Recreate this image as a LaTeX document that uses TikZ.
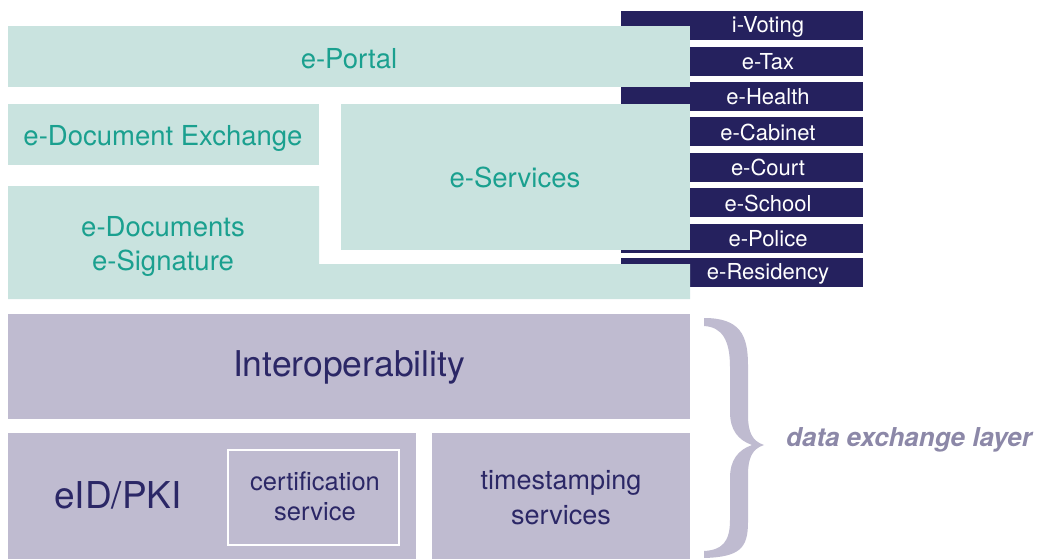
\documentclass[tikz,border=0pt]{standalone}
\usepackage{fontspec}
\setmainfont{TeX Gyre Heros}
\definecolor{tealbg}{HTML}{C9E3DF}
\definecolor{tealtx}{HTML}{1AA08F}
\definecolor{navy}{HTML}{25215E}
\definecolor{lav}{HTML}{BFBBD0}
\definecolor{lavtx}{HTML}{2B2766}
\definecolor{bracetx}{HTML}{8C88A8}
\begin{document}
\begin{tikzpicture}[x=1pt,y=-1pt,
  box/.style={inner sep=0pt,outer sep=0pt,anchor=north west},
  tealbox/.style={box,fill=tealbg},
  lavbox/.style={box,fill=lav},
  bar/.style={box,fill=navy,minimum width=242,minimum height=29},
  bartext/.style={text=white,font=\fontsize{22}{24}\selectfont,inner sep=0pt},
  tealtext/.style={text=tealtx,font=\fontsize{27.5}{34}\selectfont,align=center,inner sep=0pt},
  lavtext/.style={text=lavtx,align=center,inner sep=0pt}]
\useasboundingbox (0,0) rectangle (1046,559);
% dark service bars
\node[bar] (b1) at (621,11) {};
\node[bar] (b2) at (621,47) {};
\node[bar] (b3) at (621,82) {};
\node[bar] (b4) at (621,117) {};
\node[bar] (b5) at (621,153) {};
\node[bar] (b6) at (621,188) {};
\node[bar] (b7) at (621,224) {};
\node[bar] (b8) at (621,258) {};
\node[bartext] (t1) at (768,26.5) {i-Voting};
\node[bartext] (t2) at (768,61.5) {e-Tax};
\node[bartext] (t3) at (768,96.5) {e-Health};
\node[bartext] (t4) at (768,132) {e-Cabinet};
\node[bartext] (t5) at (768,167.5) {e-Court};
\node[bartext] (t6) at (768,203) {e-School};
\node[bartext] (t7) at (768,238.5) {e-Police};
\node[bartext] (t8) at (768,273.5) {e-Residency};
% teal boxes
\node[tealbox,minimum width=682,minimum height=61] (portal) at (8,26) {};
\node[tealtext] (portalt) at (349,59) {e-Portal};
\node[tealbox,minimum width=311,minimum height=61] (dex) at (8,104) {};
\node[tealtext] (dext) at (163,138) {e-Document Exchange};
\node[tealbox,minimum width=349,minimum height=146] (serv) at (341,104) {};
\node[tealtext] (servt) at (515,177) {e-Services};
\fill[tealbg] (8,186) -- (319,186) -- (319,264) -- (690,264) -- (690,299) -- (8,299) -- cycle;
\node[tealtext] (docs) at (163,246) {e-Documents\\e-Signature};
% lavender boxes
\node[lavbox,minimum width=682,minimum height=105] (inter) at (8,314) {};
\node[lavtext,font=\fontsize{35.5}{40}\selectfont] (intert) at (349,367) {Interoperability};
\node[lavbox,minimum width=408,minimum height=126] (eid) at (8,433) {};
\node[lavtext,font=\fontsize{37}{40}\selectfont] (eidt) at (118,495) {eID/PKI};
\node[box,draw=white,line width=2pt,minimum width=171,minimum height=95] (cert) at (228,450) {};
\node[lavtext,font=\fontsize{25.5}{30}\selectfont] (certt) at (315,496) {certification\\service};
\node[lavbox,minimum width=258,minimum height=126] (ts) at (432,433) {};
\node[lavtext,font=\fontsize{27}{35}\selectfont] (tst) at (561,498) {timestamping\\services};
% brace
\fill[lav] (704,318) .. controls (740,318) and (748,335) .. (748,365)
  -- (748,415) .. controls (748,432) and (752,441) .. (764,445)
  .. controls (752,449) and (748,458) .. (748,475)
  -- (748,522) .. controls (748,548) and (740,557) .. (704,558)
  -- (704,551) .. controls (722,550) and (730,542) .. (730,520)
  -- (730,478) .. controls (730,460) and (738,450) .. (752,445)
  .. controls (738,440) and (730,430) .. (730,412)
  -- (730,367) .. controls (730,340) and (722,327) .. (704,326) -- cycle;
\node[text=bracetx,font=\fontsize{26}{28}\selectfont\bfseries\itshape,inner sep=0pt] (layer) at (909,440) {data exchange layer};
\end{tikzpicture}
\end{document}
